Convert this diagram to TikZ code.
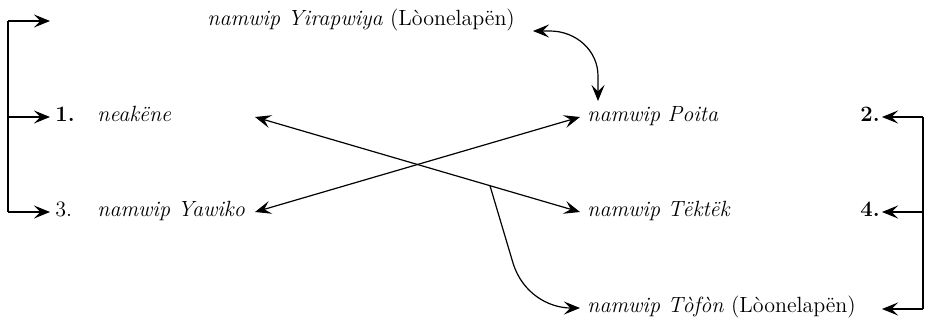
\documentclass[tikz,border=0pt]{standalone}
\usetikzlibrary{arrows.meta}
\begin{document}
\begin{tikzpicture}[x=0.5pt,y=-0.5pt,
  lbl/.style={anchor=mid west, inner sep=0pt, font=\fontsize{11}{13}\selectfont},
  ln/.style={line width=0.6pt},
  conn/.style={line width=0.6pt, -{Stealth[length=8pt,width=6.5pt,inset=3.2pt]}},
  both/.style={line width=0.6pt, {Stealth[length=8pt,width=6.5pt,inset=3.2pt]}-{Stealth[length=8pt,width=6.5pt,inset=3.2pt]}}]
\useasboundingbox (0,0) rectangle (927,321);
% text nodes
\node[lbl] (yir) at (207,21) {\textit{namwip Yirapwiya} (Lòonelapën)};
\node[lbl] (one) at (55,117) {\textbf{1.}};
\node[lbl] (nea) at (97,117) {\textit{neakëne}};
\node[lbl] (three) at (55,212) {3.};
\node[lbl] (yaw) at (97,212) {\textit{namwip Yawiko}};
\node[lbl] (poi) at (587,117) {\textit{namwip Poita}};
\node[lbl] (tek) at (587,212) {\textit{namwip Tëktëk}};
\node[lbl] (tof) at (587,308) {\textit{namwip Tòfòn} (Lòonelapën)};
\node[lbl] (two) at (860,117) {\textbf{2.}};
\node[lbl] (four) at (860,212) {\textbf{4.}};
% left bracket
\coordinate (Ltop) at (8,21);
\coordinate (L1) at (8,117);
\coordinate (L3) at (8,212);
\coordinate (Ttop) at (50,21);
\coordinate (T1) at (50,117);
\coordinate (T3) at (50,212);
\draw[ln] (Ltop) -- (L3);
\draw[conn] (Ltop) -- (Ttop);
\draw[conn] (L1) -- (T1);
\draw[conn] (L3) -- (T3);
% right bracket
\coordinate (R2) at (923,117);
\coordinate (R4) at (923,212);
\coordinate (R6) at (923,309);
\coordinate (S2) at (882,117);
\coordinate (S4) at (882,212);
\coordinate (S6) at (882,309);
\draw[ln] (R2) -- (R6);
\draw[conn] (R2) -- (S2);
\draw[conn] (R4) -- (S4);
\draw[conn] (R6) -- (S6);
% crossing lines
\coordinate (nkA) at (255,117);
\coordinate (tkA) at (580,212);
\coordinate (ywA) at (255,212);
\coordinate (poA) at (580,117);
\coordinate (tfA) at (580,308);
\draw[both] (nkA) -- (tkA);
\draw[both] (ywA) -- (poA);
\path (nkA) -- (tkA) coordinate[pos=0.723] (br);
\coordinate (bend) at (513,263);
\draw[conn] (br) -- (bend) to[out=-73,in=180] (tfA);
% curved arrow top
\coordinate (yA) at (533,31);
\coordinate (yB) at (550,31);
\coordinate (pB) at (598,76);
\coordinate (pA) at (598,101);
\draw[both] (yA) -- (yB) to[out=0,in=90] (pB) -- (pA);
\end{tikzpicture}
\end{document}
